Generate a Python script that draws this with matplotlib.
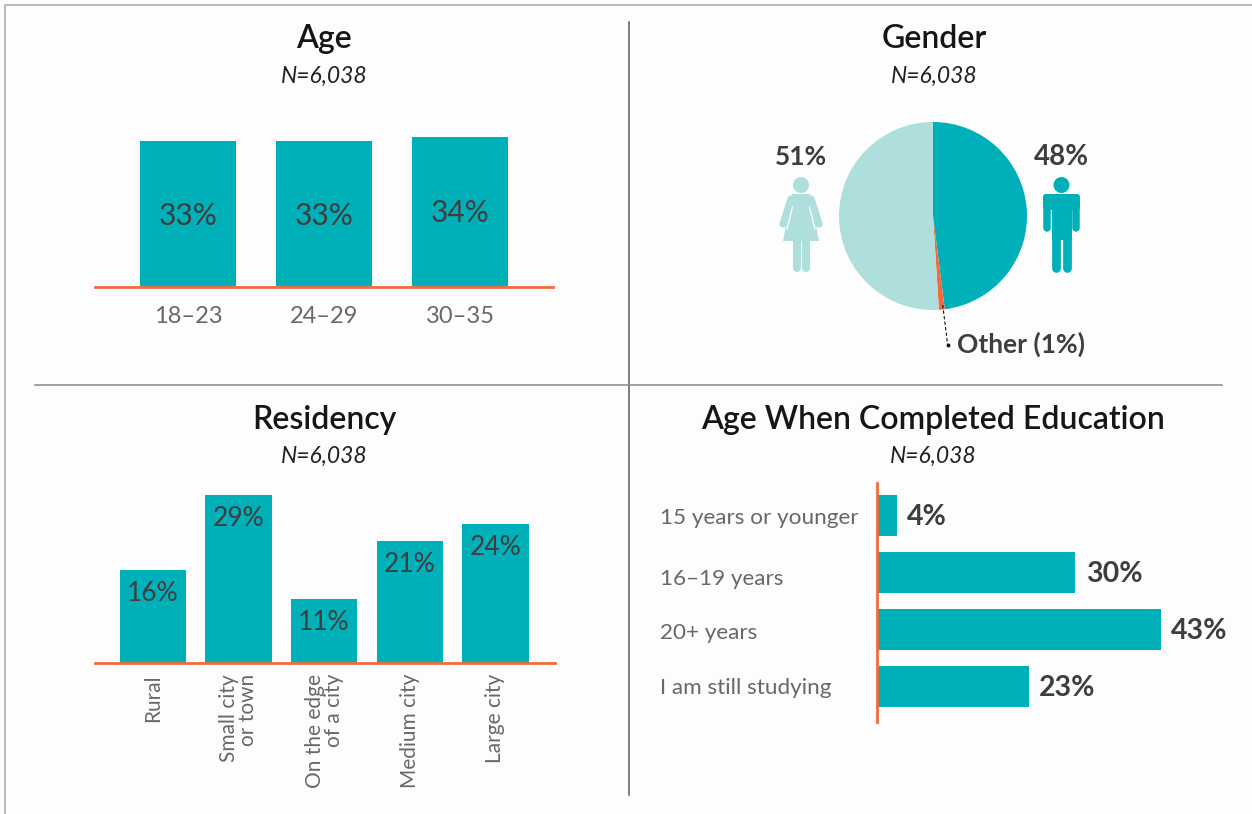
import matplotlib
matplotlib.use("Agg")
import matplotlib.pyplot as plt
from matplotlib.patches import Circle, Polygon, FancyBboxPatch
from matplotlib.transforms import ScaledTranslation

plt.rcParams['font.family'] = ['Lato', 'DejaVu Sans']

# ---- data ----
age_labels = ['18–23', '24–29', '30–35']
age_values = [33, 33, 34]
gender_values = [48, 1, 51]
res_labels = ['Rural', 'Small city\nor town', 'On the edge\nof a city', 'Medium city', 'Large city']
res_values = [16, 29, 11, 21, 24]
edu_labels = ['15 years or younger', '16–19 years', '20+ years', 'I am still studying']
edu_values = [3, 30, 43, 23]
edu_text = ['4%', '30%', '43%', '23%']
n_text = 'N=6,038'

TEAL = '#00b0b9'
PALE = '#aedfdc'
ORANGE = '#f26a3d'
DARK = '#3e3e40'
GREY = '#68686a'
BG = '#fdfdfd'
W, H = 1252, 814

fig = plt.figure(figsize=(W / 100, H / 100), dpi=100, facecolor=BG)


def axes_px(x0, y0, x1, y1):
    a = fig.add_axes([x0 / W, 1 - y1 / H, (x1 - x0) / W, (y1 - y0) / H])
    a.patch.set_alpha(0)
    for s in a.spines.values():
        s.set_visible(False)
    a.set_xticks([])
    a.set_yticks([])
    return a


# overlay in pixel coordinates for furniture, titles and icons
ov = axes_px(0, 0, W, H)
ov.set_xlim(0, W)
ov.set_ylim(H, 0)
ov.set_zorder(5)

ov.plot([5, 5, W], [814, 4.5, 4.5], color='#b4b4b4', lw=1.3)
ov.plot([629, 629], [22, 795], color='#5a5a5a', lw=1.1)
ov.plot([35, 1222], [385, 385], color='#8a8a8a', lw=1.1)

for cx, ty, ny, t in [(324, 39, 76, 'Age'), (934, 39, 76, 'Gender'),
                      (324, 420, 456, 'Residency'),
                      (933, 420, 456, 'Age When Completed Education')]:
    ov.text(cx, ty, t, ha='center', va='center', fontsize=23, color='#161616', fontweight='semibold')
    ov.text(cx, ny, n_text, ha='center', va='center', fontsize=16.5, color='#222222', style='italic')

# Age bars
ax = axes_px(95, 110, 553, 287)
ax.set_xlim(-0.684, 2.684)
ax.set_ylim(0, 177 / 4.42)
ax.bar(range(3), age_values, width=0.706, color=TEAL)
for i, v in enumerate(age_values):
    ax.text(i, v / 2 - 0.35, f'{v}%', ha='center', va='center', fontsize=21.5, color=DARK)
ax.spines['bottom'].set_visible(True)
ax.spines['bottom'].set_color(ORANGE)
ax.spines['bottom'].set_linewidth(2)
ax.set_xticks(range(3), age_labels, fontsize=17, color=GREY)
ax.tick_params(axis='x', length=0, pad=14)

# Gender pie
ax = axes_px(839, 122, 1027, 310)
ax.pie(gender_values, colors=[TEAL, ORANGE, PALE], startangle=90, counterclock=False, radius=1)
ax.set_xlim(-1, 1)
ax.set_ylim(-1, 1)

ov.text(801, 157, '51%', ha='center', va='center', fontsize=19, color=DARK, fontweight='bold')
ov.text(1061, 157, '48%', ha='center', va='center', fontsize=20, color=DARK, fontweight='bold')
ov.text(957, 344, 'Other (1%)', ha='left', va='center', fontsize=19, color=DARK, fontweight='bold')
ov.plot([942.7, 947.7], [305, 345], color='#111111', lw=0.8, ls=(0, (3, 2)))
ov.plot([947.7], [345], 'o', color='#111111', ms=1.8)

# female icon
ov.add_patch(Circle((801, 185), 8, color=PALE, lw=0))
ov.add_patch(Polygon([(792, 194), (810, 194), (819, 241), (783, 241)], color=PALE, lw=0))
for xa, xb in [(791, 783), (811, 819)]:
    ov.plot([xa, xb], [199, 224], color=PALE, lw=5.2, solid_capstyle='round')
ov.plot([792.5, 787], [207, 229], color=BG, lw=0.9)
ov.plot([809.5, 815], [207, 229], color=BG, lw=0.9)
for xa in (797, 806):
    ov.plot([xa, xa], [241, 268], color=PALE, lw=5.8, solid_capstyle='round')

# male icon
ov.add_patch(Circle((1061.5, 185), 8, color=TEAL, lw=0))
ov.add_patch(FancyBboxPatch((1046, 197), 31, 10, boxstyle='round,pad=3', color=TEAL, lw=0))
for xa in (1046.8, 1076.2):
    ov.plot([xa, xa], [203, 228], color=TEAL, lw=5.4, solid_capstyle='round')
ov.add_patch(Polygon([(1052, 200), (1071.5, 200), (1071.5, 240), (1052, 240)], color=TEAL, lw=0))
for xa in (1056.3, 1067):
    ov.plot([xa, xa], [236, 268], color=TEAL, lw=6.3, solid_capstyle='round')

# Residency bars
ax = axes_px(95, 480, 555, 663)
ax.set_xlim((95 - 153) / 85.6, (555 - 153) / 85.6)
ax.set_ylim(0, 183 / 5.81)
ax.bar(range(5), res_values, width=0.775, color=TEAL)
for i, v in enumerate(res_values):
    ax.text(i, v - 4.1, f'{v}%', ha='center', va='center', fontsize=19, color=DARK)
ax.spines['bottom'].set_visible(True)
ax.spines['bottom'].set_color(ORANGE)
ax.spines['bottom'].set_linewidth(2)
ax.set_xticks(range(5), res_labels, fontsize=15, color=GREY, rotation=90, ha='center', va='top',
              linespacing=0.95)
for lb in ax.get_xticklabels():
    lb.set_multialignment('right')
    lb.set_transform(lb.get_transform() + ScaledTranslation(2 / 100, 0, fig.dpi_scale_trans))
ax.tick_params(axis='x', length=0, pad=8)

# Education bars
ax = axes_px(877, 483, 1230, 722)
ax.set_xlim(0, 353 / 6.6)
ax.set_ylim((722 - 515.5) / 57, (483 - 515.5) / 57)
ax.barh(range(4), edu_values, height=0.73, color=TEAL)
for i, (v, t) in enumerate(zip(edu_values, edu_text)):
    ax.text(v + 1.6, i + 0.02, t, ha='left', va='center', fontsize=20.5, color=DARK, fontweight='bold')
ax.spines['left'].set_visible(True)
ax.spines['left'].set_color(ORANGE)
ax.spines['left'].set_linewidth(2)
ax.set_yticks(range(4))
ax.set_yticklabels(edu_labels, fontsize=16.2, color=GREY, ha='left')
ax.tick_params(axis='y', length=0, pad=156)
for lb, dy in zip(ax.get_yticklabels(), [1, 4.5, 1.5, 0]):
    lb.set_transform(lb.get_transform() + ScaledTranslation(0, -dy / 100, fig.dpi_scale_trans))

fig.savefig('out.png', dpi=100, facecolor=BG)
